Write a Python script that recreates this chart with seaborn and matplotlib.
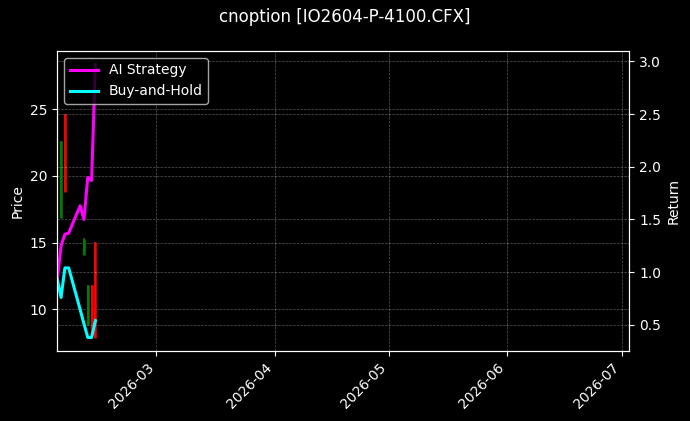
import matplotlib
matplotlib.use("Agg")
import matplotlib.pyplot as plt
import matplotlib.dates as mdates
import matplotlib.ticker as mticker
import seaborn as sns
import pandas as pd
import numpy as np

# ---- data ----
dates = ["2026-02-03", "2026-02-04", "2026-02-05", "2026-02-06", "2026-02-09",
         "2026-02-10", "2026-02-11", "2026-02-12", "2026-02-13"]
opens = [np.nan, 16.85, 24.65, np.nan, np.nan, 14.10, 8.82, 11.82, 15.07]
highs = [np.nan, 22.64, 24.65, np.nan, np.nan, 15.35, 11.82, 11.82, 15.07]
lows = [np.nan, 16.85, 18.82, np.nan, np.nan, 14.10, 8.82, 8.07, 7.84]
closes = [np.nan, 22.64, 18.82, np.nan, np.nan, 15.30, 11.82, 8.07, 7.84]
ai_return = [0.93, 1.25, 1.36, 1.37, 1.63, 1.50, 1.90, 1.87, 2.97]
bh_return = [0.93, 0.76, 1.04, 1.04, 0.645, 0.51, 0.38, 0.38, 0.54]
series_names = ["AI Strategy", "Buy-and-Hold"]
series_colors = ["#ff00ff", "#00ffff"]
title = "cnoption [IO2604-P-4100.CFX]"
x_start, x_end = "2026-02-03", "2026-07-03"
price_lim = (6.87, 29.37)

plt.style.use("dark_background")
plt.rcParams["font.family"] = ["DejaVu Sans"]

dt = pd.to_datetime(dates)

fig, ax = plt.subplots(figsize=(6.9, 4.21), dpi=100)
fig.subplots_adjust(left=0.083, right=0.912, top=0.879, bottom=0.166)

# candles
for d, o, h, l, c in zip(dt, opens, highs, lows, closes):
    if np.isnan(o):
        continue
    col = "green" if c >= o else "red"
    ax.vlines(d, l, h, color=col, linewidth=1.2)
    ax.vlines(d, min(o, c), max(o, c), color=col, linewidth=1.8)

ax.set_ylabel("Price")
ax.set_ylim(*price_lim)
ax.yaxis.set_major_locator(mticker.MultipleLocator(5))
ax.grid(True, linestyle="--", linewidth=0.5, alpha=0.35)

ax2 = ax.twinx()
df = pd.DataFrame({
    "Date": list(dt) * 2,
    "Return": ai_return + bh_return,
    "Series": [series_names[0]] * len(dt) + [series_names[1]] * len(dt),
})
sns.lineplot(data=df, x="Date", y="Return", hue="Series",
             palette=dict(zip(series_names, series_colors)),
             linewidth=2.2, ax=ax2)
ax2.set_ylabel("Return")
ax2.set_xlabel("")
ax2.grid(True, linestyle="--", linewidth=0.5, alpha=0.35)
sns.move_legend(ax2, "upper left", title=None)

ax.set_xlim(pd.Timestamp(x_start), pd.Timestamp(x_end))
ax.xaxis.set_major_locator(mdates.MonthLocator())
ax.xaxis.set_major_formatter(mdates.DateFormatter("%Y-%m"))
plt.setp(ax.get_xticklabels(), rotation=45, ha="right")
ax.set_xlabel("")

fig.suptitle(title, fontsize=12)
fig.savefig("out.png", dpi=100)
